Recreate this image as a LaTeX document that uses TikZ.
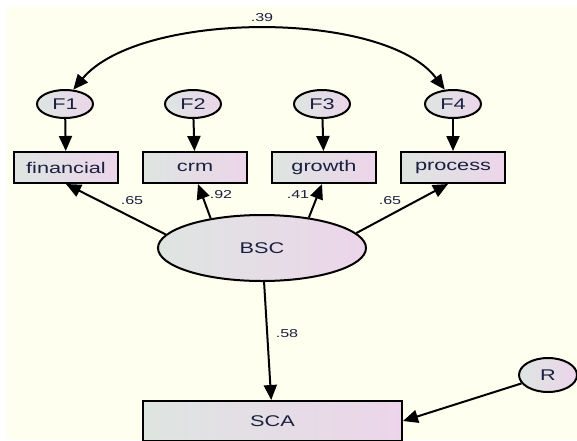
\documentclass[tikz,border=0pt]{standalone}
\usepackage{fontspec}
\setmainfont{Liberation Sans}[FakeStretch=1.4]
\usetikzlibrary{arrows.meta,shapes.geometric}
\definecolor{ambg}{HTML}{FFFFF0}
\definecolor{amleft}{HTML}{DEE5E1}
\definecolor{amright}{HTML}{ECD5EA}
\definecolor{amtext}{HTML}{1A2040}

\begin{document}
\begin{tikzpicture}[x=1pt,y=-1pt,line width=2pt,
  >={Triangle[length=15pt,width=13pt]},
  latent/.style={draw, ellipse, inner sep=0pt, left color=amleft, right color=amright,
    text=amtext, font=\fontsize{15.5}{18}\selectfont},
  observed/.style={draw, rectangle, inner sep=0pt, minimum width=104pt, minimum height=31pt,
    left color=amleft, right color=amright, text=amtext, font=\fontsize{15.5}{18}\selectfont},
  coef/.style={text=amtext, font=\fontsize{11.5}{13}\selectfont, inner sep=1pt}]
  \useasboundingbox (0,0) rectangle (577,440);
  % canvas: thin white strip at top and left, ivory sheet
  \fill[white] (0,0) rectangle (577,440);
  \fill[ambg] (7,7) rectangle (577,440);
  % error terms of the indicators
  \node[latent, minimum width=56pt, minimum height=28pt] (F1) at (65,104) {F1};
  \node[latent, minimum width=56pt, minimum height=28pt] (F2) at (193,104) {F2};
  \node[latent, minimum width=56pt, minimum height=28pt] (F3) at (322,104) {F3};
  \node[latent, minimum width=56pt, minimum height=28pt] (F4) at (453,104) {F4};
  % indicators
  \node[observed] (fin) at (66,167.5) {financial};
  \node[observed] (crm) at (195,167.5) {crm};
  \node[observed] (growth) at (324,167.5) {growth};
  \node[observed] (process) at (453,167.5) {process};
  % latent factor, outcome and its residual
  \node[latent, minimum width=208pt, minimum height=66pt] (BSC) at (262,248) {BSC};
  \node[observed, minimum width=259pt, minimum height=40pt] (SCA) at (272.5,421) {SCA};
  \node[latent, minimum width=58pt, minimum height=34pt] (R) at (548,375) {R};
  % paths
  \foreach \f/\o in {F1/fin,F2/crm,F3/growth,F4/process}{ \draw[->] (\f) -- (\o); }
  \draw[->] (BSC.172) -- (fin.south);
  \draw[->] (BSC.150) -- ([xshift=3pt]crm.south);
  \draw[->] (BSC.33) -- ([xshift=-2pt]growth.south);
  \draw[->] (BSC.9) -- ([xshift=-5pt]process.south);
  \draw[->] (BSC) -- (SCA);
  \draw[->] (R) -- (SCA.east);
  % covariance F1 <-> F4
  \draw[<->] (F1.60) .. controls (140,10) and (385,10) .. (F4.120);
  % estimates
  \node[coef] (c39) at (262,18) {.39};
  \node[coef] (c65a) at (132,201) {.65};
  \node[coef] (c92) at (221,195) {.92};
  \node[coef] (c41) at (298,195) {.41};
  \node[coef] (c65b) at (390,201) {.65};
  \node[coef] (c58) at (287,334) {.58};
\end{tikzpicture}
\end{document}
